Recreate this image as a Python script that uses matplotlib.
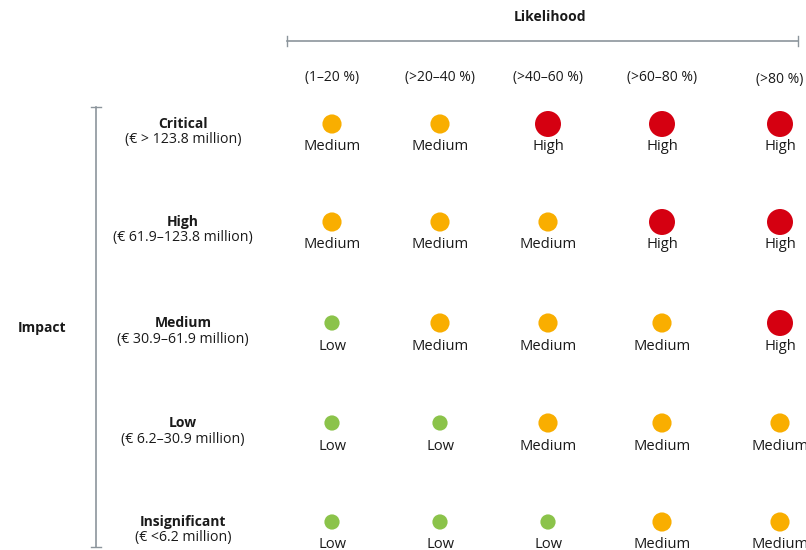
"""Risk matrix: impact vs likelihood."""
import matplotlib
matplotlib.use('Agg')
import matplotlib.pyplot as plt

plt.rcParams['font.family'] = ['Open Sans', 'DejaVu Sans']

likelihood = ['(1\u201320 %)', '(>20\u201340 %)', '(>40\u201360 %)',
              '(>60\u201380 %)', '(>80 %)']
impact = ['Critical', 'High', 'Medium', 'Low', 'Insignificant']
impact_range = ['(\u20ac > 123.8 million)', '(\u20ac 61.9\u2013123.8 million)',
                '(\u20ac 30.9\u201361.9 million)', '(\u20ac 6.2\u201330.9 million)',
                '(\u20ac <6.2 million)']
ratings = [
    ['Medium', 'Medium', 'High', 'High', 'High'],
    ['Medium', 'Medium', 'Medium', 'High', 'High'],
    ['Low', 'Medium', 'Medium', 'Medium', 'High'],
    ['Low', 'Low', 'Medium', 'Medium', 'Medium'],
    ['Low', 'Low', 'Low', 'Medium', 'Medium'],
]

# layout (pixel coordinates)
COL_X = [332, 440, 548, 662, 780]
ROW_Y = [124, 222, 323, 423, 522]
STYLE = {'Low': ('#8bc34a', 120),
         'Medium': ('#f9ae00', 190),
         'High': ('#d50011', 350)}
TXT = '#1a1a1a'
AXIS_C = '#8c959c'

fig = plt.figure(figsize=(8.06, 5.5), dpi=100)
ax = fig.add_axes([0, 0, 1, 1])
ax.set_xlim(0, 806)
ax.set_ylim(550, 0)
ax.axis('off')

# likelihood axis
ax.text(550, 17, 'Likelihood', ha='center', va='center', fontsize=10,
        fontweight='bold', color=TXT)
ax.plot([287, 798], [41, 41], color=AXIS_C, lw=1.2)
for x in (287, 798):
    ax.plot([x, x], [36, 46], color=AXIS_C, lw=1)
for i, lab in enumerate(likelihood):
    ax.text(COL_X[i], 78 if i < 4 else 80, lab, ha='center', va='center',
            fontsize=10, color=TXT)

# impact axis
ax.text(42, 328, 'Impact', ha='center', va='center', fontsize=10,
        fontweight='bold', color=TXT)
ax.plot([96, 96], [107, 547], color=AXIS_C, lw=1.2)
for y in (107, 547):
    ax.plot([91, 101], [y, y], color=AXIS_C, lw=1)
for j, (lab, rng) in enumerate(zip(impact, impact_range)):
    ax.text(183, ROW_Y[j], lab, ha='center', va='center', fontsize=10,
            fontweight='bold', color=TXT)
    ax.text(183, ROW_Y[j] + 16, rng, ha='center', va='center', fontsize=10.2,
            color=TXT)

# dots and rating labels
for j, row in enumerate(ratings):
    for i, r in enumerate(row):
        c, s = STYLE[r]
        ax.scatter(COL_X[i], ROW_Y[j], s=s, color=c, edgecolors='none',
                   zorder=3)
        ax.text(COL_X[i], ROW_Y[j] + 23, r, ha='center', va='center',
                fontsize=10.6, color=TXT)

fig.savefig('out.png', dpi=100)
